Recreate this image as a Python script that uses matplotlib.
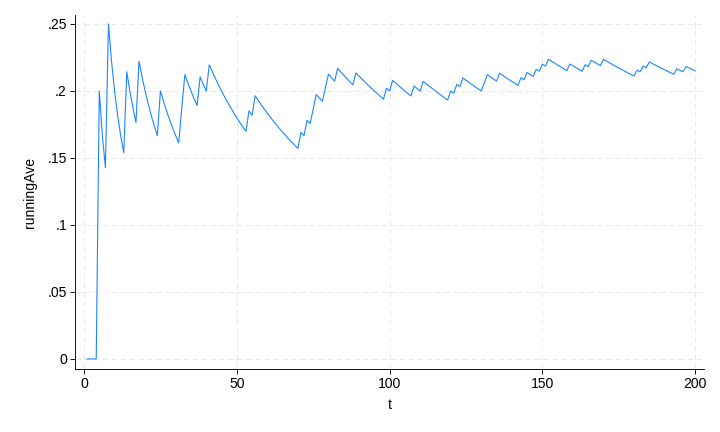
import numpy as np
import matplotlib
matplotlib.use("Agg")
import matplotlib.pyplot as plt

plt.rcParams['font.family'] = ['Liberation Sans', 'DejaVu Sans']

# Time points (t) at which the outcome was a success (x = 1), read from the jumps
success_t = [5, 8, 14, 18, 25, 32, 33, 38, 41, 54, 56, 71, 73, 75, 76, 79, 80,
             83, 89, 99, 101, 108, 111, 120, 122, 124, 131, 132, 136, 143, 145,
             148, 150, 152, 159, 164, 166, 170, 181, 183, 185, 194, 197]
n_obs = 200
x_ticks = [0, 50, 100, 150, 200]
y_ticks = [0, 0.05, 0.1, 0.15, 0.2, 0.25]
y_tick_labels = ['0', '.05', '.1', '.15', '.2', '.25']

t = np.arange(1, n_obs + 1)
outcome = np.isin(t, success_t).astype(float)
runningAve = np.cumsum(outcome) / t

fig = plt.figure(figsize=(10, 6), dpi=72)
ax = fig.add_axes([75/720, 1 - 369/432, (704-75)/720, (369-15)/432])
ax.plot(t, runningAve, color='#1a85ff', lw=1.1)

ax.set_xlim(-2.95, 202.9)
ax.set_ylim(-0.0075, 0.2567)
ax.set_xticks(x_ticks)
ax.set_yticks(y_ticks)
ax.set_yticklabels(y_tick_labels)
ax.grid(True, color='#e6e6e6', linestyle=(0, (6, 4)), lw=0.9)
ax.set_axisbelow(True)
for s in ['top', 'right']:
    ax.spines[s].set_visible(False)
for s in ['left', 'bottom']:
    ax.spines[s].set_color('black')
    ax.spines[s].set_linewidth(0.9)
ax.tick_params(direction='out', length=5, width=0.9, labelsize=14, colors='black', pad=3)
ax.set_xlabel('t', fontsize=14, labelpad=7)
ax.set_ylabel('runningAve', fontsize=14, labelpad=10)

fig.savefig('out.png', dpi=72, facecolor='white')
